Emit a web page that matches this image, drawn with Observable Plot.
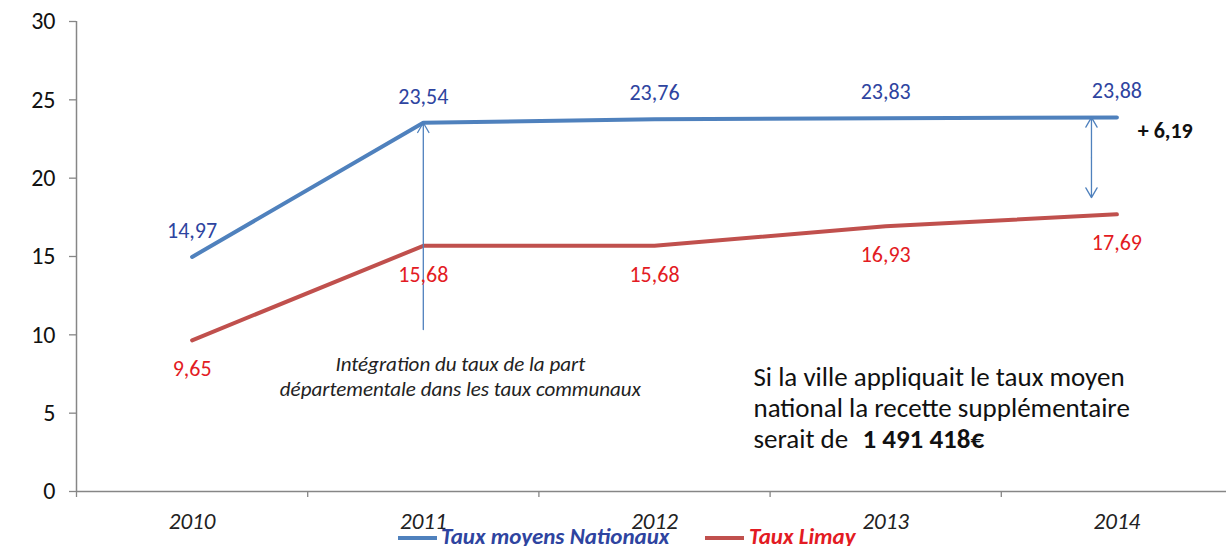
<!DOCTYPE html>
<html>
<head>
<meta charset="utf-8">
<script src="https://cdn.jsdelivr.net/npm/d3@7"></script>
<script src="https://cdn.jsdelivr.net/npm/@observablehq/plot@0.6"></script>
<style>
  html, body { margin: 0; padding: 0; background: #fff; overflow: hidden; }
  body { width: 1226px; height: 546px; font-family: Carlito, Calibri, Lato, sans-serif; }
  #chart { position: relative; width: 1226px; height: 528px; }
  #legend { position: relative; width: 1226px; height: 18px; font-weight: bold; font-style: italic; font-size: 23px; line-height: 20px; }
  .sw { position: absolute; top: 8px; width: 39px; height: 4px; }
  .lt { position: absolute; top: -2px; white-space: nowrap; }
</style>
</head>
<body>
<div id="chart"></div>
<div id="legend">
  <div class="sw" style="left:398px;background:#4F81BD"></div>
  <div class="lt" id="lg0" style="left:441px;color:#2E44A0"></div>
  <div class="sw" style="left:705px;background:#C0504D"></div>
  <div class="lt" id="lg1" style="left:749px;color:#E31B23"></div>
</div>
<script>
const years = ["2010", "2011", "2012", "2013", "2014"];
const seriesNames = ["Taux moyens Nationaux", "Taux Limay"];
const nationaux = [14.97, 23.54, 23.76, 23.83, 23.88];
const limay = [9.65, 15.68, 15.68, 16.93, 17.69];
const yTicks = [0, 5, 10, 15, 20, 25, 30];

document.getElementById("lg0").textContent = seriesNames[0];
document.getElementById("lg1").textContent = seriesNames[1];

const rows = [
  ...years.map((y, i) => ({i, year: y, value: nationaux[i], series: seriesNames[0]})),
  ...years.map((y, i) => ({i, year: y, value: limay[i], series: seriesNames[1]}))
];
const fmt = v => d3.format(".2f")(v).replace(".", ",");
const natRows = rows.filter(d => d.series === seriesNames[0]);
const limRows = rows.filter(d => d.series === seriesNames[1]);
const font = "Carlito, Calibri, Lato, sans-serif";
const axisColor = "#868686";
const blueLine = "#4F81BD", redLine = "#C0504D";
const blueText = "#2E44A0", redText = "#E31B23";

const plot = Plot.plot({
  width: 1226,
  height: 528,
  marginLeft: 76,
  marginRight: 0,
  marginTop: 21,
  marginBottom: 37,
  style: {fontFamily: font, background: "#fff", overflow: "visible"},
  x: {domain: [-0.5, 4.5], range: [76, 1232]},
  y: {domain: [0, 30], range: [491, 21]},
  marks: [
    Plot.axisY({ticks: yTicks, tickSize: 7, tickFormat: () => "", stroke: axisColor, strokeWidth: 1.3, label: null, strokeOpacity: 1}),
    Plot.axisX({ticks: [-0.5, 0.5, 1.5, 2.5, 3.5, 4.5], tickSize: 6, tickFormat: () => "", stroke: axisColor, strokeWidth: 1.3, label: null, strokeOpacity: 1}),
    Plot.text(yTicks, {x: -0.5, y: d => d, dx: -21, textAnchor: "end", fontSize: 24, fill: "#111"}),
    Plot.text(years, {x: (d, i) => i, y: 0, dy: 30, fontSize: 23, fontStyle: "italic", fill: "#222"}),
    Plot.ruleX([-0.5], {stroke: axisColor, strokeWidth: 1.5}),
    Plot.ruleY([0], {stroke: axisColor, strokeWidth: 1.5}),
    Plot.line(rows, {x: "i", y: "value", z: "series", stroke: d => d.series === seriesNames[0] ? blueLine : redLine, strokeWidth: 4, strokeLinecap: "round"}),
    Plot.arrow([{x: 1, y1: 10.34, y2: nationaux[1]}], {x1: "x", x2: "x", y1: "y1", y2: "y2", stroke: blueLine, strokeWidth: 1.3, headLength: 13, headAngle: 60}),
    Plot.arrow([{x: 3.89, y1: 21.3, y2: nationaux[4]}, {x: 3.89, y1: 21.3, y2: 18.76}], {x1: "x", x2: "x", y1: "y1", y2: "y2", stroke: blueLine, strokeWidth: 1.3, headLength: 13, headAngle: 60}),
    Plot.text(natRows, {x: "i", y: "value", text: d => fmt(d.value), dy: -26, fill: blueText, fontSize: 22}),
    Plot.text(limRows, {x: "i", y: "value", text: d => fmt(d.value), dy: 29, fill: redText, fontSize: 22}),
    Plot.text(["+ " + fmt(nationaux[4] - limay[4])], {x: 4.09, y: 23.0, textAnchor: "start", fontWeight: "bold", fontSize: 22, fill: "#111"}),
    Plot.text(["Intégration du taux de la part\ndépartementale dans les taux communaux"], {x: 1.16, y: 7.43, fontStyle: "italic", fontSize: 21, fill: "#222", lineHeight: 1.19}),
    Plot.text(["Si la ville appliquait le taux moyen"], {x: 2.428, y: 7.3, textAnchor: "start", fontSize: 27, fill: "#111"}),
    Plot.text(["national la recette supplémentaire"], {x: 2.428, y: 5.3, textAnchor: "start", fontSize: 27, fill: "#111"}),
    Plot.text(["serait de "], {x: 2.428, y: 3.33, textAnchor: "start", fontSize: 27, fill: "#111"}),
    Plot.text(["1 491 418€"], {x: 2.428, y: 3.33, dx: 109, textAnchor: "start", fontSize: 27, fontWeight: "bold", fill: "#111"})
  ]
});
document.getElementById("chart").appendChild(plot);
</script>
</body>
</html>
